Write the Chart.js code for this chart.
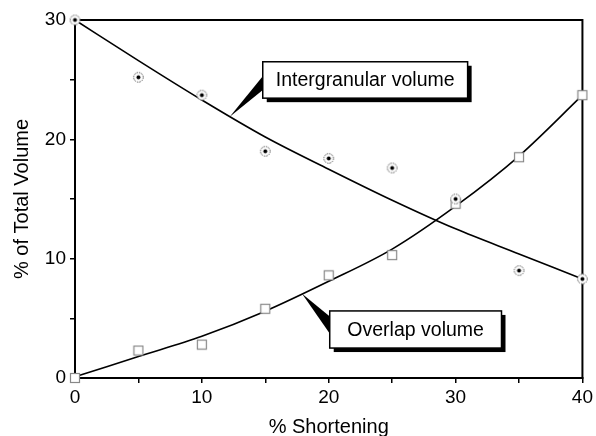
<!DOCTYPE html>
<html>
<head>
<meta charset="utf-8">
<script src="https://cdn.jsdelivr.net/npm/chart.js@4.4.1/dist/chart.umd.min.js"></script>
<style>
  html, body { margin: 0; padding: 0; background: #fff; }
  #wrap { width: 596px; height: 436px; }
</style>
</head>
<body>
<div id="wrap"><canvas id="c" width="596" height="436"></canvas></div>
<script>
// ---- data ----
const shortening = [0, 5, 10, 15, 20, 25, 30, 35, 40];
const intergranularPts = [30, 25.2, 23.7, 19.0, 18.4, 17.6, 15.0, 9.0, 8.3];
const overlapPts = [0, 2.3, 2.8, 5.8, 8.6, 10.3, 14.6, 18.5, 23.7];
// fitted curves
const intergranularCurve = [30, 26.6, 23.3, 20.2, 17.5, 14.9, 12.5, 10.4, 8.3];
const overlapCurve = [0.1, 1.8, 3.5, 5.6, 8.1, 10.8, 14.4, 18.6, 23.7];
const xTicks = [0, 10, 20, 30, 40];
const yTicks = [0, 10, 20, 30];
const labelIntergranular = 'Intergranular volume';
const labelOverlap = 'Overlap volume';

function pts(ys) { return shortening.map((x, i) => ({ x: x, y: ys[i] })); }

function circleDot() {
  const c = document.createElement('canvas');
  c.width = 13; c.height = 13;
  const g = c.getContext('2d');
  g.fillStyle = '#fff';
  g.beginPath(); g.arc(6.5, 6.5, 5, 0, Math.PI * 2); g.fill();
  g.strokeStyle = '#555'; g.lineWidth = 1; g.setLineDash([1.5, 1]);
  g.beginPath(); g.arc(6.5, 6.5, 4.8, 0, Math.PI * 2); g.stroke();
  g.setLineDash([]);
  g.fillStyle = '#000';
  g.beginPath(); g.arc(6.5, 6.5, 2, 0, Math.PI * 2); g.fill();
  return c;
}
function openSquare() {
  const c = document.createElement('canvas');
  c.width = 12; c.height = 12;
  const g = c.getContext('2d');
  g.fillStyle = '#fff'; g.fillRect(1, 1, 10, 10);
  g.strokeStyle = '#888'; g.lineWidth = 1.2;
  g.strokeRect(1.5, 1.5, 9, 9);
  return c;
}

const FONT = "'Liberation Sans', Arial, sans-serif";

const framePlugin = {
  id: 'frame',
  beforeDatasetsDraw(chart) {
    const { ctx, chartArea: a } = chart;
    ctx.save();
    ctx.strokeStyle = '#000'; ctx.lineWidth = 2;
    ctx.strokeRect(a.left, a.top, a.right - a.left, a.bottom - a.top);
    ctx.restore();
  },
  afterDraw(chart) {
    const { ctx } = chart;
    const xs = chart.scales.x, ys = chart.scales.y;
    const px = v => xs.getPixelForValue(v), py = v => ys.getPixelForValue(v);
    function callout(text, box, tip, base) {
      const l = px(box[0]), t = py(box[1]), r = px(box[2]), b = py(box[3]);
      ctx.save();
      // wedge pointer
      ctx.fillStyle = '#000';
      ctx.beginPath();
      ctx.moveTo(px(tip[0]), py(tip[1]));
      ctx.lineTo(l + 1, py(base[0]));
      ctx.lineTo(l + 1, py(base[1]));
      ctx.closePath(); ctx.fill();
      // shadow
      ctx.fillRect(l + 4, t + 4, r - l, b - t);
      // box
      ctx.fillStyle = '#fff';
      ctx.fillRect(l, t, r - l, b - t);
      ctx.strokeStyle = '#000'; ctx.lineWidth = 1.5;
      ctx.strokeRect(l, t, r - l, b - t);
      ctx.fillStyle = '#000';
      ctx.font = '19.5px ' + FONT;
      ctx.textAlign = 'center'; ctx.textBaseline = 'middle';
      ctx.fillText(text, (l + r) / 2, (t + b) / 2 + 1);
      ctx.restore();
    }
    callout(labelIntergranular, [14.8, 26.5, 30.95, 23.45], [12.2, 21.9], [25.4, 24.2]);
    callout(labelOverlap, [20.08, 5.62, 33.62, 2.51], [17.9, 7.05], [5.1, 3.6]);
  }
};

new Chart(document.getElementById('c'), {
  type: 'scatter',
  data: {
    datasets: [
      { data: pts(intergranularCurve), showLine: true, borderColor: '#000', borderWidth: 1.6,
        pointRadius: 0, tension: 0.4, cubicInterpolationMode: 'monotone', order: 3, clip: false },
      { data: pts(overlapCurve), showLine: true, borderColor: '#000', borderWidth: 1.6,
        pointRadius: 0, tension: 0.4, cubicInterpolationMode: 'monotone', order: 3, clip: false },
      { data: pts(intergranularPts), showLine: false, pointStyle: circleDot(), order: 1, clip: false },
      { data: pts(overlapPts), showLine: false, pointStyle: openSquare(), order: 2, clip: false }
    ]
  },
  options: {
    responsive: false,
    animation: false,
    devicePixelRatio: 1,
    layout: { padding: { top: 20, right: 13, left: 0, bottom: 0 } },
    plugins: { legend: { display: false }, tooltip: { enabled: false } },
    scales: {
      x: {
        type: 'linear', min: 0, max: 40,
        afterBuildTicks(s) { s.ticks = [0,5,10,15,20,25,30,35,40].map(v => ({ value: v })); },
        afterFit(s) { s.height = 58; },
        border: { display: true, color: '#000', width: 2 },
        grid: { drawOnChartArea: false, drawTicks: true, tickLength: 5, color: '#000', lineWidth: 1.5 },
        ticks: {
          color: '#000', font: { size: 19, family: FONT }, padding: 3, maxRotation: 0, autoSkip: false,
          callback: v => xTicks.includes(v) ? String(v) : ''
        },
        title: { display: true, text: '% Shortening', color: '#000', font: { size: 20, family: FONT, lineHeight: 1 },
          padding: { top: 0, bottom: -1 } }
      },
      y: {
        type: 'linear', min: 0, max: 30,
        afterBuildTicks(s) { s.ticks = [0,5,10,15,20,25,30].map(v => ({ value: v })); },
        afterFit(s) { s.width = 75; },
        border: { display: true, color: '#000', width: 2 },
        grid: { drawOnChartArea: false, drawTicks: true, tickLength: 5, color: '#000', lineWidth: 1.5 },
        ticks: {
          color: '#000', font: { size: 19, family: FONT }, padding: 4, autoSkip: false,
          callback: v => yTicks.includes(v) ? String(v) : ''
        },
        title: { display: true, text: '% of Total Volume', color: '#000', font: { size: 20, family: FONT, lineHeight: 1 },
          padding: { top: 12, bottom: 0 } }
      }
    }
  },
  plugins: [framePlugin]
});
</script>
</body>
</html>
